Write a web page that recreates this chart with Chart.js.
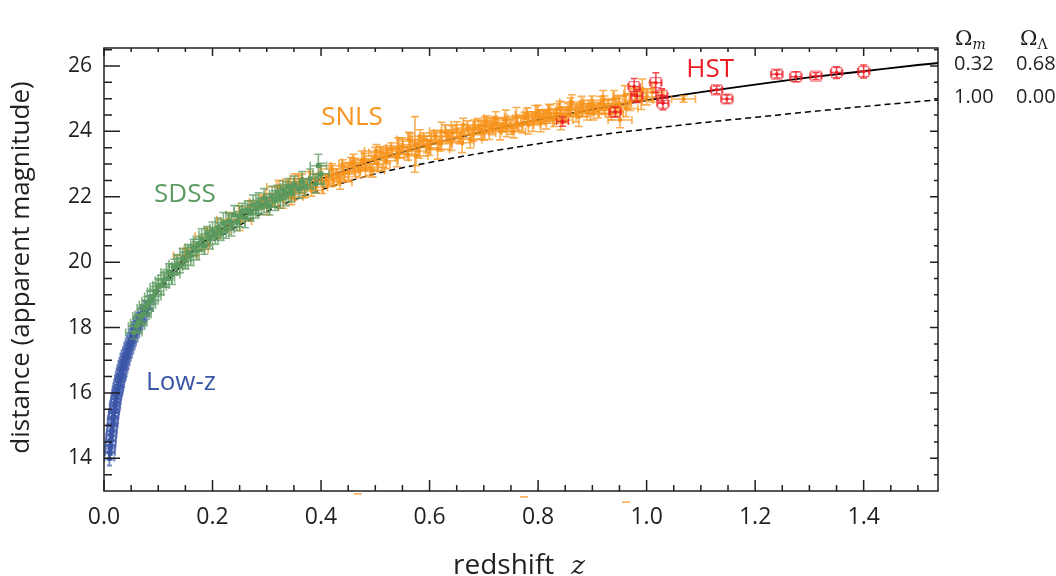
<!DOCTYPE html>
<html lang="en">
<head>
<meta charset="UTF-8">
<title>Hubble diagram</title>
<script src="https://cdn.jsdelivr.net/npm/chart.js@4.4.1/dist/chart.umd.min.js"></script>
<style>
  html, body { margin: 0; padding: 0; background: #fff; }
</style>
</head>
<body>
<canvas id="hubble" width="1056" height="576"></canvas>
<script>
// ---- data ----
// Low-z sample
const lowZ_z = [0.0100,0.0105,0.0110,0.0112,0.0118,0.0122,0.0125,0.0130,0.0133,0.0138,
  0.0142,0.0147,0.0150,0.0155,0.0158,0.0163,0.0167,0.0170,0.0175,0.0180,
  0.0184,0.0190,0.0195,0.0200,0.0205,0.0210,0.0215,0.0220,0.0226,0.0232,
  0.0238,0.0244,0.0250,0.0256,0.0262,0.0268,0.0275,0.0282,0.0290,0.0297,
  0.0305,0.0312,0.0320,0.0328,0.0336,0.0345,0.0354,0.0362,0.0372,0.0382,
  0.0392,0.0402,0.0413,0.0425,0.0437,0.0450,0.0462,0.0475,0.0488,0.0500,
  0.0515,0.0530,0.0545,0.0560,0.0575,0.0590,0.0605,0.0620,0.0640,0.0660,
  0.0680,0.0700,0.0720,0.0745,0.0770,0.0800,0.0830];
const lowZ_m = [13.98,14.20,14.15,14.38,14.30,14.55,14.42,14.70,14.55,14.82,
  14.70,14.98,14.85,15.05,15.20,15.00,15.25,15.12,15.38,15.28,
  15.45,15.40,15.62,15.50,15.70,15.58,15.80,15.72,15.92,15.85,
  16.05,15.95,16.15,16.02,16.25,16.12,16.35,16.22,16.48,16.38,
  16.58,16.45,16.70,16.55,16.80,16.68,16.92,16.78,17.02,16.90,
  17.15,17.02,17.25,17.12,17.36,17.25,17.50,17.38,17.62,17.50,
  17.75,17.62,17.88,17.75,18.00,17.90,18.12,18.00,18.25,18.12,
  18.38,18.25,18.48,18.40,18.62,18.55,18.78];
const lowZ_dm = 0.2;
const lowZ_dz = 0.009;

// SDSS sample
const sdss_z = [0.055,0.060,0.064,0.068,0.072,0.076,0.080,0.085,0.090,0.095,
  0.100,0.105,0.110,0.115,0.120,0.125,0.130,0.135,0.140,0.145,
  0.150,0.155,0.160,0.165,0.170,0.175,0.180,0.185,0.190,0.195,
  0.200,0.205,0.210,0.215,0.220,0.225,0.230,0.235,0.240,0.245,
  0.250,0.255,0.260,0.265,0.270,0.275,0.280,0.285,0.290,0.295,
  0.300,0.305,0.310,0.315,0.320,0.325,0.330,0.335,0.340,0.345,
  0.350,0.360,0.365,0.370,0.380,0.390,0.400,0.395];
const sdss_m = [17.85,18.05,18.15,18.35,18.40,18.60,18.70,18.82,18.95,19.10,
  19.25,19.30,19.45,19.50,19.70,19.62,19.85,19.95,19.90,20.12,
  20.05,20.30,20.20,20.45,20.35,20.55,20.70,20.50,20.85,20.70,
  20.95,20.80,21.05,20.90,21.20,21.00,21.25,21.10,21.45,21.22,
  21.40,21.55,21.35,21.60,21.50,21.75,21.62,21.80,21.70,21.95,
  21.80,21.70,22.00,21.88,22.10,21.95,22.20,22.05,22.30,22.15,
  22.35,22.25,22.45,22.30,22.55,22.40,22.70,22.95];
const sdss_dm = [0.20,0.22,0.25,0.20,0.28,0.22,0.25,0.30,0.22,0.26,
  0.24,0.30,0.22,0.27,0.25,0.30,0.24,0.28,0.22,0.30,
  0.26,0.24,0.30,0.25,0.28,0.22,0.32,0.26,0.24,0.30,
  0.28,0.25,0.30,0.24,0.32,0.27,0.25,0.30,0.28,0.26,
  0.32,0.25,0.30,0.28,0.24,0.30,0.27,0.32,0.25,0.30,
  0.28,0.26,0.32,0.30,0.25,0.30,0.28,0.32,0.26,0.30,
  0.28,0.30,0.32,0.26,0.30,0.28,0.32,0.35];
const sdss_dz = 0.015;

// SNLS sample (last three sit below the axis, only their caps show)
const snls_z = [0.150,0.170,0.190,0.210,0.230,0.250,0.270,0.290,0.300,0.310,
  0.320,0.330,0.340,0.345,0.350,0.360,0.365,0.370,0.380,0.390,
  0.400,0.410,0.415,0.420,0.430,0.435,0.440,0.450,0.455,0.460,
  0.470,0.475,0.480,0.490,0.495,0.500,0.505,0.510,0.515,0.520,
  0.530,0.540,0.545,0.550,0.560,0.565,0.573,0.575,0.580,0.590,
  0.595,0.600,0.610,0.615,0.620,0.630,0.635,0.640,0.650,0.655,
  0.660,0.670,0.675,0.680,0.690,0.695,0.700,0.705,0.710,0.715,
  0.720,0.730,0.735,0.740,0.750,0.755,0.760,0.770,0.775,0.780,
  0.790,0.795,0.800,0.805,0.810,0.815,0.820,0.830,0.835,0.840,
  0.850,0.855,0.860,0.870,0.875,0.880,0.890,0.895,0.900,0.910,
  0.915,0.920,0.930,0.935,0.940,0.945,0.950,0.951,0.960,0.970,
  0.980,0.990,1.000,1.010,1.068,
  0.322,0.352,0.382,0.402,0.422,0.442,0.462,0.482,0.502,0.522,
  0.542,0.562,0.582,0.602,0.622,0.642,0.662,0.682,0.702,0.722,
  0.742,0.762,0.782,0.802,0.822,0.842,0.862,0.882,0.902,0.922,
  0.962,0.992,
  0.468,0.774,0.962];
const snls_m = [20.20,20.40,20.80,20.95,21.30,21.25,21.70,21.85,21.70,21.90,
  22.10,21.95,22.35,22.00,22.10,22.40,22.55,22.25,22.55,22.30,
  22.70,22.50,22.65,22.85,22.60,22.45,22.95,22.75,23.00,23.05,
  22.80,23.10,23.15,22.90,22.80,23.25,23.00,23.35,23.20,23.10,
  23.45,23.20,23.40,23.55,23.30,23.70,23.60,23.25,23.40,23.75,
  23.60,23.50,23.85,23.45,23.62,23.95,23.85,23.70,24.05,23.80,
  23.65,24.10,23.75,23.90,24.15,24.05,23.95,24.30,24.05,24.15,
  24.25,24.00,24.20,24.35,24.15,24.00,24.45,24.20,24.40,24.50,
  24.30,24.55,24.60,24.25,24.45,24.35,24.65,24.40,24.55,24.70,
  24.50,24.65,24.75,24.55,24.45,24.85,24.60,24.75,24.80,24.65,
  24.85,24.95,24.70,24.55,25.00,24.75,24.85,24.35,25.10,24.90,
  25.15,24.95,25.05,25.20,24.99,
  22.30,22.45,22.20,22.40,22.55,22.70,22.90,22.85,23.40,23.30,
  23.50,23.75,23.85,23.70,24.00,23.95,24.20,24.05,24.20,24.40,
  24.10,24.25,24.20,24.45,24.55,24.35,24.90,24.70,24.55,24.80,
  24.70,25.30,
  12.00,12.00,12.00];
const snls_dm = [0.20,0.18,0.25,0.15,0.22,0.28,0.18,0.20,0.25,0.16,
  0.22,0.30,0.18,0.24,0.20,0.26,0.15,0.28,0.22,0.18,
  0.25,0.20,0.30,0.16,0.24,0.22,0.18,0.28,0.20,0.25,
  0.22,0.30,0.18,0.24,0.20,0.26,0.22,0.18,0.30,0.24,
  0.20,0.28,0.22,0.25,0.18,0.24,0.85,0.30,0.22,0.20,
  0.26,0.24,0.18,0.30,0.22,0.25,0.20,0.28,0.24,0.18,
  0.30,0.22,0.26,0.20,0.24,0.28,0.22,0.18,0.30,0.25,
  0.20,0.26,0.22,0.30,0.24,0.20,0.28,0.25,0.18,0.22,
  0.30,0.24,0.20,0.26,0.22,0.28,0.18,0.25,0.30,0.22,
  0.24,0.20,0.28,0.26,0.30,0.22,0.25,0.20,0.28,0.24,
  0.22,0.30,0.26,0.20,0.25,0.28,0.22,0.24,0.30,0.26,
  0.20,0.28,0.24,0.30,0.10,
  0.20,0.25,0.18,0.30,0.22,0.20,0.28,0.24,0.20,0.26,
  0.30,0.22,0.20,0.25,0.28,0.22,0.20,0.30,0.24,0.20,
  0.26,0.22,0.28,0.20,0.25,0.30,0.22,0.24,0.20,0.28,
  0.25,0.30,
  0.91,0.82,0.66];
const snls_dz = 0.022;

// HST sample
const hst_z = [0.845,0.942,0.977,0.982,1.017,1.028,1.030,1.129,1.148,1.240,1.275,1.312,1.350,1.400];
const hst_m = [24.30,24.59,25.37,25.08,25.49,25.10,24.86,25.27,24.99,25.75,25.67,25.69,25.80,25.83];
const hst_dm = [0.14,0.15,0.25,0.20,0.30,0.20,0.20,0.12,0.12,0.12,0.15,0.10,0.18,0.20];
const hst_dz = 0.011;

// model curves, (Omega_m, Omega_L) = (0.32, 0.68) and (1.00, 0.00)
const curve_z = [0.010,0.015,0.020,0.030,0.040,0.050,0.070,0.100,0.150,0.200,0.250,0.300,0.350,
  0.400,0.500,0.600,0.700,0.800,0.900,1.000,1.100,1.200,1.300,1.400,1.500,1.537];
const lcdm_m = [14.05,14.94,15.57,16.46,17.10,17.60,18.37,19.18,20.13,20.82,21.36,21.82,22.20,
  22.54,23.12,23.59,24.00,24.35,24.67,24.95,25.20,25.43,25.65,25.84,26.03,26.09];
const matter_m = [14.05,14.93,15.56,16.44,17.07,17.55,18.30,19.08,20.00,20.63,21.13,21.55,21.90,
  22.21,22.70,23.05,23.35,23.62,23.86,24.07,24.26,24.43,24.60,24.76,24.91,24.96];
const modelRows = [['0.32', '0.68'], ['1.00', '0.00']];

// axis ticks
const xTicks = [0, 0.2, 0.4, 0.6, 0.8, 1.0, 1.2, 1.4];
const yTicks = [14, 16, 18, 20, 22, 24, 26];
const xMinor = 0.05, yMinor = 0.5;

// sample labels: text, z, m, colour
const sampleLabels = [
  ['SNLS', 0.457, 24.41, '#f7941d'],
  ['SDSS', 0.149, 22.06, '#5e9a63'],
  ['Low-z', 0.142, 16.32, '#3b56a6'],
  ['HST', 1.117, 25.88, '#ec1c24']
];

function toPoints(zs, ms, dms, dz) {
  return zs.map((z, i) => ({ x: z, y: ms[i], dx: dz, dy: Array.isArray(dms) ? dms[i] : dms }));
}

Chart.defaults.font.family = "'Open Sans', 'Noto Sans', sans-serif";
Chart.defaults.color = '#231f20';

// error bars under each sample's markers
const errorBars = {
  id: 'errorBars',
  beforeDatasetDraw(chart, args) {
    const ds = chart.data.datasets[args.index];
    if (!ds.errStyle) return;
    const ctx = chart.ctx, xs = chart.scales.x, ys = chart.scales.y, st = ds.errStyle;
    ctx.save();
    ctx.strokeStyle = st.color;
    ctx.lineWidth = st.width;
    ds.data.forEach(p => {
      const px = xs.getPixelForValue(p.x), py = ys.getPixelForValue(p.y);
      const xl = xs.getPixelForValue(p.x - p.dx), xr = xs.getPixelForValue(p.x + p.dx);
      const yt = ys.getPixelForValue(p.y + p.dy), yb = ys.getPixelForValue(p.y - p.dy);
      ctx.beginPath();
      if (p.y < ys.min) {
        ctx.moveTo(px - st.cap, yt); ctx.lineTo(px + st.cap, yt);
      } else {
        ctx.moveTo(px, yt); ctx.lineTo(px, yb);
        ctx.moveTo(px - st.cap, yt); ctx.lineTo(px + st.cap, yt);
        ctx.moveTo(px - st.cap, yb); ctx.lineTo(px + st.cap, yb);
        ctx.moveTo(xl, py); ctx.lineTo(xr, py);
        ctx.moveTo(xl, py - st.cap); ctx.lineTo(xl, py + st.cap);
        ctx.moveTo(xr, py - st.cap); ctx.lineTo(xr, py + st.cap);
      }
      ctx.stroke();
    });
    ctx.restore();
  },
  afterDatasetDraw(chart, args) {
    const ds = chart.data.datasets[args.index];
    if (!ds.centerDot) return;
    const ctx = chart.ctx, xs = chart.scales.x, ys = chart.scales.y;
    ctx.save();
    ctx.fillStyle = ds.centerDot;
    ds.data.forEach(p => {
      ctx.beginPath();
      ctx.arc(xs.getPixelForValue(p.x), ys.getPixelForValue(p.y), 1.8, 0, Math.PI * 2);
      ctx.fill();
    });
    ctx.restore();
  }
};

// box and inward ticks on all four sides
const frame = {
  id: 'frame',
  afterDatasetsDraw(chart) {
    const ctx = chart.ctx, a = chart.chartArea, xs = chart.scales.x, ys = chart.scales.y;
    ctx.save();
    ctx.strokeStyle = '#231f20';
    ctx.lineWidth = 1.5;
    ctx.strokeRect(a.left, a.top, a.right - a.left, a.bottom - a.top);
    ctx.beginPath();
    for (let i = 0; i * xMinor <= xs.max + 1e-9; i++) {
      const v = i * xMinor, px = xs.getPixelForValue(v);
      const major = xTicks.some(t => Math.abs(t - v) < 1e-6);
      ctx.moveTo(px, a.bottom); ctx.lineTo(px, a.bottom - (major ? 11 : 6));
      ctx.moveTo(px, a.top); ctx.lineTo(px, a.top + (major ? 8 : 4));
    }
    for (let i = 1; ys.min + i * yMinor <= ys.max + 1e-9; i++) {
      const v = ys.min + i * yMinor, py = ys.getPixelForValue(v);
      const major = yTicks.some(t => Math.abs(t - v) < 1e-6);
      ctx.moveTo(a.left, py); ctx.lineTo(a.left + (major ? 16 : 8), py);
      ctx.moveTo(a.right, py); ctx.lineTo(a.right - (major ? 8 : 4), py);
    }
    ctx.stroke();
    ctx.restore();
  }
};

// titles, sample names and the model table
const annotations = {
  id: 'annotations',
  afterDraw(chart) {
    const ctx = chart.ctx, a = chart.chartArea, xs = chart.scales.x, ys = chart.scales.y;
    ctx.save();
    ctx.fillStyle = '#231f20';

    // y title
    ctx.save();
    ctx.translate(22, (a.top + a.bottom) / 2 - 2);
    ctx.rotate(-Math.PI / 2);
    ctx.font = "26px 'Open Sans'";
    ctx.textAlign = 'center';
    ctx.textBaseline = 'middle';
    ctx.fillText('distance (apparent magnitude)', 0, 0);
    ctx.restore();

    // x title: "redshift  z"
    ctx.font = "28px 'Open Sans'";
    const w1 = ctx.measureText('redshift').width;
    ctx.font = "italic 26px 'DejaVu Serif'";
    const w2 = ctx.measureText('z').width;
    const gap = 17;
    const x0 = (a.left + a.right) / 2 - 2 - (w1 + gap + w2) / 2;
    ctx.textBaseline = 'alphabetic';
    ctx.textAlign = 'left';
    ctx.font = "28px 'Open Sans'";
    ctx.fillText('redshift', x0, 574);
    ctx.font = "italic 26px 'DejaVu Serif'";
    ctx.fillText('z', x0 + w1 + gap, 574);

    // sample names
    ctx.textAlign = 'center';
    ctx.textBaseline = 'middle';
    ctx.font = "26px 'Open Sans'";
    sampleLabels.forEach(([txt, z, m, col]) => {
      ctx.fillStyle = col;
      ctx.fillText(txt, xs.getPixelForValue(z), ys.getPixelForValue(m));
    });

    // model table to the right of the box
    ctx.fillStyle = '#231f20';
    const c1 = a.right + 16, c2 = a.right + 78;
    const hy = a.top - 10;
    ctx.textAlign = 'left';
    ctx.textBaseline = 'alphabetic';
    [[c1 + 1, 'm', 'italic'], [c2 + 4, '\u039B', '']].forEach(([cx, sub, sty]) => {
      ctx.font = "21px 'DejaVu Serif'";
      ctx.fillText('\u03A9', cx, hy + 7);
      const wo = ctx.measureText('\u03A9').width;
      ctx.font = (sty ? sty + ' ' : '') + "14px 'DejaVu Serif'";
      ctx.fillText(sub, cx + wo, hy + 11);
    });
    ctx.font = "20px 'Open Sans'";
    ctx.textBaseline = 'middle';
    const rowY = [a.top + 16, a.top + 49];
    modelRows.forEach((row, r) => {
      ctx.fillText(row[0], c1, rowY[r]);
      ctx.fillText(row[1], c2, rowY[r]);
    });
    ctx.restore();
  }
};

new Chart(document.getElementById('hubble'), {
  type: 'scatter',
  data: {
    datasets: [
      {
        label: 'HST',
        data: toPoints(hst_z, hst_m, hst_dm, hst_dz),
        pointStyle: 'rect', pointRadius: [2, 7, 7, 7, 7, 7, 7, 7, 7, 7, 7, 7, 7, 7],
        backgroundColor: 'rgba(0,0,0,0)', borderColor: 'rgba(236,28,36,0.6)', borderWidth: 1.3,
        errStyle: { color: 'rgba(236,28,36,0.8)', width: 1.5, cap: 3.5 },
        centerDot: '#ec1c24'
      },
      {
        label: 'SDSS',
        data: toPoints(sdss_z, sdss_m, sdss_dm, sdss_dz),
        pointStyle: 'rect', pointRadius: 3.4,
        backgroundColor: '#5b9a5f', borderColor: '#5b9a5f', borderWidth: 0,
        errStyle: { color: 'rgba(91,154,95,0.75)', width: 1.6, cap: 4 }
      },
      {
        label: 'SNLS',
        data: toPoints(snls_z, snls_m, snls_dm, snls_dz),
        pointStyle: 'circle', pointRadius: 2.2,
        backgroundColor: '#f7941d', borderWidth: 0,
        errStyle: { color: 'rgba(247,148,29,0.75)', width: 1.6, cap: 4 }
      },
      {
        label: 'Low-z',
        data: toPoints(lowZ_z, lowZ_m, lowZ_dm, lowZ_dz),
        pointStyle: 'circle', pointRadius: 2.4,
        backgroundColor: '#3b56a6', borderWidth: 0,
        errStyle: { color: 'rgba(59,86,166,0.7)', width: 1.8, cap: 2.5 }
      },
      {
        label: '0.32 / 0.68',
        data: curve_z.map((z, i) => ({ x: z, y: lcdm_m[i] })),
        showLine: true, borderColor: '#000', borderWidth: 1.9,
        pointRadius: 0, cubicInterpolationMode: 'monotone'
      },
      {
        label: '1.00 / 0.00',
        data: curve_z.map((z, i) => ({ x: z, y: matter_m[i] })),
        showLine: true, borderColor: '#000', borderWidth: 1.5, borderDash: [6, 4],
        pointRadius: 0, cubicInterpolationMode: 'monotone'
      }
    ]
  },
  options: {
    responsive: false,
    animation: false,
    events: [],
    layout: { padding: { left: 0, right: 118, top: 48, bottom: 0 } },
    plugins: { legend: { display: false }, tooltip: { enabled: false } },
    scales: {
      x: {
        type: 'linear', min: 0, max: 1.537,
        afterFit: s => { s.height = 85; },
        grid: { display: false, drawTicks: false }, border: { display: false },
        ticks: {
          stepSize: 0.2, includeBounds: false, autoSkip: false, maxRotation: 0,
          padding: 13, color: '#231f20',
          font: { family: "'Liberation Sans Narrow', 'Open Sans', sans-serif", size: 23 },
          callback: v => v.toFixed(1)
        }
      },
      y: {
        type: 'linear', min: 13, max: 26.55,
        afterFit: s => { s.width = 104; },
        grid: { display: false, drawTicks: false }, border: { display: false },
        ticks: {
          stepSize: 2, includeBounds: false, padding: 12,
          font: { size: 21 }, color: '#231f20',
          callback: v => String(v)
        }
      }
    }
  },
  plugins: [errorBars, frame, annotations]
});
</script>
</body>
</html>
